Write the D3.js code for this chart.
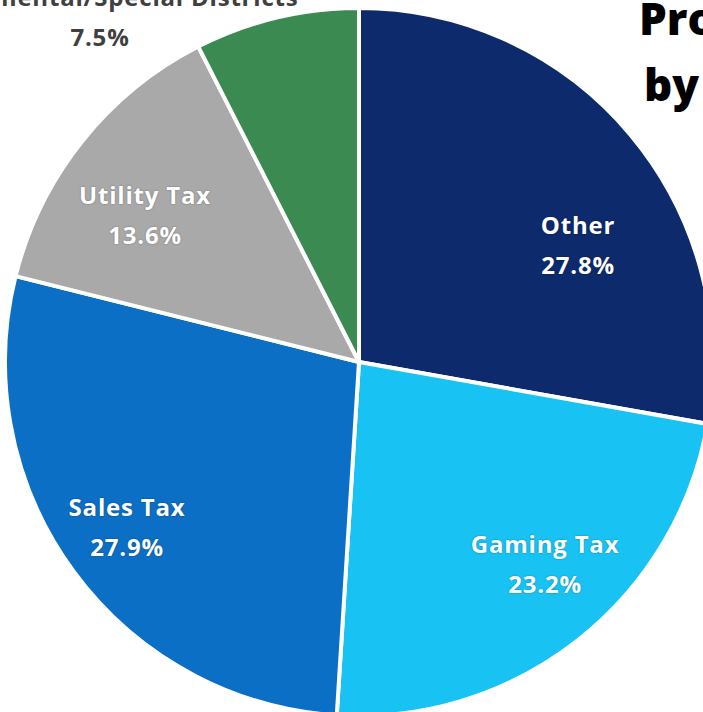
<!DOCTYPE html>
<html>
<head>
<meta charset="utf-8">
<script src="https://cdn.jsdelivr.net/npm/d3@7/dist/d3.min.js"></script>
<style>
  html, body { margin: 0; padding: 0; background: #ffffff; overflow: hidden; }
  svg { display: block; }
</style>
</head>
<body>
<svg id="chart" width="703" height="712"></svg>
<script>
// Revenue sources and their shares (percent), clockwise from 12 o'clock
const categories = ["Other", "Gaming Tax", "Sales Tax", "Utility Tax", "Governmental/Special Districts"];
const shares = [27.8, 23.2, 27.9, 13.6, 7.5];
const colors = ["#0c2a6c", "#18c3f3", "#0b6fc5", "#a9a9a9", "#3a8a52"];
const titleLines = ["Projected Revenue", "by Source"];

const svg = d3.select("#chart");
const cx = 359, cy = 362, radius = 354;

const data = categories.map((c, i) => ({ name: c, value: shares[i], color: colors[i] }));

const pie = d3.pie().value(d => d.value).sort(null);
const arc = d3.arc().innerRadius(0).outerRadius(radius);

const g = svg.append("g").attr("transform", `translate(${cx},${cy})`);

g.selectAll("path.slice")
  .data(pie(data))
  .join("path")
  .attr("class", "slice")
  .attr("d", arc)
  .attr("fill", d => d.data.color)
  .attr("stroke", "#ffffff")
  .attr("stroke-width", 4)
  .attr("stroke-linejoin", "round");

// Label placement relative to the pie centre (dx, dy), one per category
const labelOffsets = {
  "Other": [219, -116],
  "Gaming Tax": [186, 203],
  "Sales Tax": [-232, 166],
  "Utility Tax": [-214, -146],
  "Governmental/Special Districts": [-259, -344]
};

const labels = g.selectAll("g.label")
  .data(pie(data))
  .join("g")
  .attr("class", "label")
  .attr("transform", d => `translate(${labelOffsets[d.data.name][0]},${labelOffsets[d.data.name][1]})`);

labels.each(function(d) {
  const inside = d.data.name !== "Governmental/Special Districts";
  const t = d3.select(this).append("text")
    .attr("text-anchor", "middle")
    .attr("font-family", "'Open Sans', 'DejaVu Sans', sans-serif")
    .attr("font-weight", 700)
    .attr("font-size", 24)
    .attr("letter-spacing", 0.8)
    .attr("fill", inside ? "#ffffff" : "#404040")
    .style("text-shadow", inside ? "0 0 2px rgba(0,0,0,0.35)" : "none");
  t.append("tspan").attr("x", 0).attr("y", -12).text(d.data.name);
  t.append("tspan").attr("x", 0).attr("y", 28).text(d3.format(".1f")(d.data.value) + "%");
});

// Chart title, running off the right edge
const title = svg.append("text")
  .attr("font-family", "'Open Sans', 'DejaVu Sans', sans-serif")
  .attr("font-weight", 800)
  .attr("font-size", 44)
  .attr("fill", "#000000");
title.append("tspan").attr("x", 639).attr("y", 35).text(titleLines[0]);
title.append("tspan").attr("x", 644).attr("y", 101).text(titleLines[1]);
</script>
</body>
</html>
